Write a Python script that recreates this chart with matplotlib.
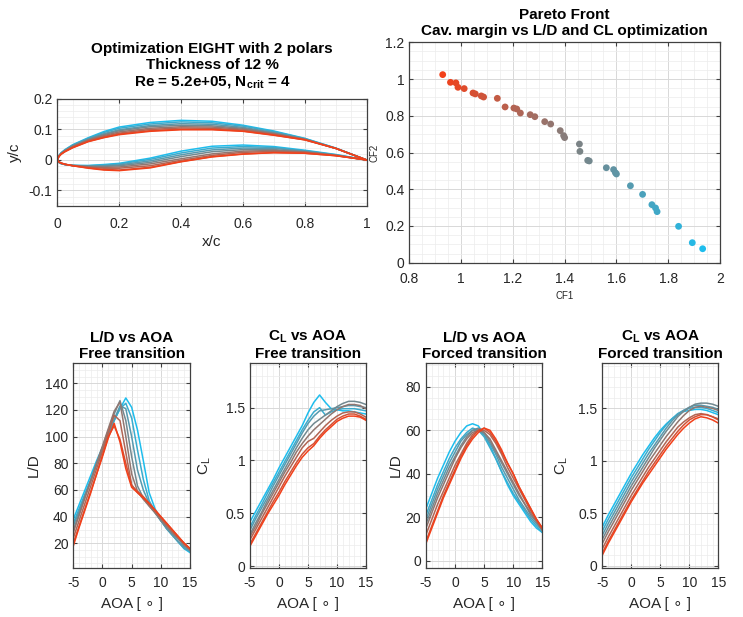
import matplotlib
matplotlib.use('Agg')
import matplotlib.pyplot as plt
from matplotlib.colors import LinearSegmentedColormap
from matplotlib.ticker import MultipleLocator, FuncFormatter

plt.rcParams['font.family'] = ['Liberation Sans', 'DejaVu Sans']
plt.rcParams['mathtext.fontset'] = 'custom'
plt.rcParams['mathtext.rm'] = 'Liberation Sans'
plt.rcParams['mathtext.bf'] = 'Liberation Sans:bold'
plt.rcParams['axes.unicode_minus'] = False

# ---- geometry of the designs (red -> grey -> cyan) ----
x_st = [0, 0.005, 0.0125, 0.025, 0.05, 0.1, 0.15, 0.2, 0.3, 0.4, 0.5, 0.6, 0.7, 0.8, 0.9, 1.0]

upper = [
    [0, .011, .019, .027, .040, .060, .073, .083, .094, .099, .099, .094, .081, .066, .038, 0],
    [0, .011, .019, .028, .041, .061, .074, .085, .096, .101, .101, .095, .082, .066, .038, 0],
    [0, .012, .020, .029, .043, .063, .077, .088, .100, .105, .104, .098, .084, .067, .038, 0],
    [0, .012, .021, .030, .044, .065, .080, .092, .104, .109, .108, .101, .086, .068, .038, 0],
    [0, .013, .022, .031, .046, .067, .083, .096, .109, .114, .112, .104, .088, .068, .038, 0],
    [0, .013, .022, .032, .047, .069, .086, .099, .113, .119, .117, .107, .090, .069, .038, 0],
    [0, .014, .023, .033, .049, .071, .090, .104, .118, .125, .122, .111, .093, .070, .039, 0],
    [0, .014, .024, .034, .050, .073, .093, .108, .123, .130, .127, .114, .095, .071, .039, 0],
]
lower = [
    [0, -.006, -.010, -.014, -.019, -.027, -.033, -.035, -.026, -.006, .010, .019, .024, .022, .014, 0],
    [0, -.006, -.010, -.014, -.019, -.026, -.031, -.033, -.024, -.005, .011, .020, .024, .022, .014, 0],
    [0, -.007, -.011, -.014, -.019, -.024, -.027, -.027, -.019, -.001, .015, .025, .028, .025, .015, 0],
    [0, -.007, -.011, -.015, -.018, -.023, -.024, -.023, -.013, .004, .020, .029, .031, .026, .015, 0],
    [0, -.007, -.011, -.015, -.018, -.021, -.021, -.019, -.008, .011, .027, .034, .034, .027, .016, 0],
    [0, -.008, -.012, -.015, -.018, -.020, -.019, -.016, -.003, .017, .033, .039, .038, .029, .016, 0],
    [0, -.008, -.012, -.015, -.018, -.019, -.017, -.013, .002, .023, .039, .044, .041, .030, .017, 0],
    [0, -.008, -.012, -.015, -.018, -.018, -.015, -.011, .006, .029, .045, .049, .044, .032, .018, 0],
]

# ---- pareto front ----
cf1 = [0.929, 0.959, 0.980, 0.988, 1.012, 1.046, 1.055, 1.078, 1.087, 1.140, 1.170, 1.204,
       1.215, 1.229, 1.267, 1.285, 1.323, 1.346, 1.383, 1.396, 1.400, 1.457, 1.459, 1.489,
       1.495, 1.561, 1.589, 1.596, 1.600, 1.654, 1.701, 1.737, 1.751, 1.757, 1.840, 1.893, 1.933]
cf2 = [1.024, 0.982, 0.979, 0.955, 0.948, 0.924, 0.919, 0.908, 0.902, 0.895, 0.848, 0.842,
       0.837, 0.815, 0.806, 0.795, 0.768, 0.755, 0.719, 0.692, 0.681, 0.646, 0.606, 0.557,
       0.554, 0.517, 0.507, 0.490, 0.483, 0.419, 0.372, 0.316, 0.298, 0.278, 0.198, 0.109, 0.076]

# ---- polars ----
aoa = [-5, -4, -3, -2, -1, 0, 1, 2, 3, 4, 5, 6, 7, 8, 9, 10, 11, 12, 13, 14, 15]

ld_free = [
    [18, 32, 45, 58, 72, 85, 99, 110, 96, 76, 62, 58, 54, 50, 45, 40, 35, 30, 25, 20, 16],
    [20, 33, 46, 59, 72, 86, 100, 108, 98, 80, 63, 59, 55, 50, 45, 40, 35, 30, 25, 20, 16],
    [24, 37, 50, 63, 76, 89, 103, 116, 112, 88, 64, 58, 54, 49, 44, 39, 34, 29, 24, 20, 16],
    [28, 41, 54, 67, 80, 93, 106, 119, 126, 100, 72, 59, 53, 48, 43, 38, 33, 28, 24, 19, 15],
    [30, 42, 55, 67, 80, 92, 105, 117, 127, 112, 85, 63, 54, 48, 43, 37, 32, 27, 23, 18, 15],
    [33, 44, 56, 67, 79, 90, 102, 113, 123, 121, 100, 75, 60, 50, 43, 37, 31, 26, 21, 17, 14],
    [35, 46, 57, 68, 80, 91, 102, 112, 121, 125, 114, 90, 68, 52, 44, 37, 31, 26, 21, 16, 14],
    [38, 49, 60, 71, 82, 92, 102, 112, 121, 129, 122, 105, 82, 58, 46, 38, 31, 26, 21, 16, 13],
]
cl_free = [
    [0.19, 0.29, 0.39, 0.49, 0.58, 0.67, 0.77, 0.86, 0.95, 1.03, 1.09, 1.14, 1.21, 1.27, 1.32, 1.37, 1.40, 1.42, 1.42, 1.41, 1.38],
    [0.21, 0.31, 0.41, 0.51, 0.61, 0.70, 0.80, 0.89, 0.98, 1.06, 1.12, 1.16, 1.23, 1.29, 1.34, 1.39, 1.42, 1.44, 1.44, 1.42, 1.39],
    [0.25, 0.35, 0.45, 0.55, 0.65, 0.75, 0.85, 0.94, 1.03, 1.12, 1.18, 1.21, 1.27, 1.33, 1.38, 1.42, 1.45, 1.46, 1.46, 1.44, 1.41],
    [0.28, 0.38, 0.49, 0.59, 0.69, 0.79, 0.89, 0.98, 1.08, 1.16, 1.23, 1.29, 1.34, 1.39, 1.44, 1.48, 1.51, 1.53, 1.53, 1.52, 1.49],
    [0.30, 0.41, 0.51, 0.62, 0.72, 0.82, 0.92, 1.02, 1.12, 1.21, 1.29, 1.35, 1.39, 1.43, 1.47, 1.51, 1.54, 1.56, 1.56, 1.55, 1.53],
    [0.34, 0.45, 0.55, 0.65, 0.76, 0.86, 0.96, 1.06, 1.16, 1.26, 1.35, 1.42, 1.47, 1.48, 1.49, 1.50, 1.51, 1.52, 1.52, 1.51, 1.50],
    [0.37, 0.48, 0.58, 0.69, 0.79, 0.89, 0.99, 1.09, 1.19, 1.29, 1.38, 1.46, 1.50, 1.43, 1.46, 1.48, 1.49, 1.49, 1.49, 1.48, 1.47],
    [0.42, 0.52, 0.62, 0.72, 0.82, 0.93, 1.03, 1.13, 1.23, 1.33, 1.45, 1.55, 1.62, 1.55, 1.49, 1.48, 1.47, 1.47, 1.46, 1.45, 1.44],
]
ld_forced = [
    [8, 15, 22, 29, 35, 41, 47, 52, 56, 59, 61, 60, 56, 51, 45, 40, 34, 29, 24, 19, 15],
    [9, 16, 23, 30, 36, 42, 48, 53, 57, 60, 61, 59, 55, 50, 45, 40, 34, 29, 24, 19, 15],
    [12, 19, 26, 32, 38, 44, 49, 54, 58, 60, 60, 58, 54, 49, 43, 38, 33, 28, 23, 19, 15],
    [15, 22, 29, 35, 41, 47, 52, 56, 59, 60, 59, 56, 51, 46, 41, 36, 31, 26, 22, 18, 14],
    [17, 24, 31, 37, 43, 48, 53, 57, 60, 61, 59, 55, 50, 45, 40, 35, 30, 26, 21, 18, 14],
    [19, 26, 33, 39, 45, 50, 55, 58, 60, 60, 58, 54, 49, 43, 38, 33, 28, 24, 20, 17, 14],
    [21, 28, 35, 41, 47, 52, 56, 59, 61, 60, 57, 52, 47, 41, 36, 31, 27, 23, 19, 16, 13],
    [24, 31, 38, 44, 50, 55, 59, 62, 63, 62, 58, 53, 47, 41, 35, 30, 26, 22, 18, 15, 13],
]
cl_forced = [
    [0.10, 0.21, 0.31, 0.41, 0.51, 0.61, 0.70, 0.79, 0.87, 0.95, 1.03, 1.11, 1.18, 1.25, 1.31, 1.36, 1.40, 1.42, 1.41, 1.39, 1.36],
    [0.12, 0.23, 0.33, 0.43, 0.53, 0.63, 0.72, 0.81, 0.90, 0.98, 1.06, 1.14, 1.21, 1.28, 1.34, 1.39, 1.42, 1.44, 1.44, 1.42, 1.39],
    [0.16, 0.27, 0.37, 0.47, 0.57, 0.67, 0.76, 0.85, 0.94, 1.02, 1.10, 1.18, 1.25, 1.32, 1.37, 1.41, 1.44, 1.45, 1.44, 1.42, 1.40],
    [0.21, 0.32, 0.42, 0.52, 0.62, 0.72, 0.81, 0.90, 0.99, 1.07, 1.15, 1.23, 1.30, 1.37, 1.43, 1.48, 1.51, 1.52, 1.51, 1.50, 1.48],
    [0.25, 0.36, 0.46, 0.56, 0.66, 0.76, 0.85, 0.94, 1.03, 1.12, 1.20, 1.28, 1.35, 1.42, 1.47, 1.51, 1.54, 1.55, 1.55, 1.54, 1.52],
    [0.29, 0.40, 0.50, 0.60, 0.70, 0.80, 0.89, 0.98, 1.07, 1.15, 1.23, 1.31, 1.38, 1.44, 1.48, 1.51, 1.53, 1.53, 1.52, 1.51, 1.49],
    [0.33, 0.44, 0.54, 0.64, 0.74, 0.84, 0.93, 1.02, 1.11, 1.19, 1.27, 1.34, 1.40, 1.45, 1.48, 1.50, 1.51, 1.51, 1.50, 1.48, 1.46],
    [0.37, 0.48, 0.58, 0.68, 0.78, 0.88, 0.97, 1.06, 1.14, 1.22, 1.29, 1.35, 1.40, 1.44, 1.47, 1.48, 1.49, 1.49, 1.48, 1.46, 1.44],
]

cmap = LinearSegmentedColormap.from_list('rgc', ['#f2401a', '#808080', '#1ebded'])
n_des = len(upper)
W, H = 743, 617
TXT = '#262626'


def px_axes(fig, left, top, right, bottom):
    return fig.add_axes([left / W, 1 - bottom / H, (right - left) / W, (bottom - top) / H])


def style(ax, xmaj, xmin, ymaj, ymin, xpad=6):
    ax.xaxis.set_major_locator(MultipleLocator(xmaj))
    ax.xaxis.set_minor_locator(MultipleLocator(xmin))
    ax.yaxis.set_major_locator(MultipleLocator(ymaj))
    ax.yaxis.set_minor_locator(MultipleLocator(ymin))
    fmt = FuncFormatter(lambda v, p: f'{v:g}' if abs(v) > 1e-9 else '0')
    ax.xaxis.set_major_formatter(fmt)
    ax.yaxis.set_major_formatter(fmt)
    ax.grid(True, which='major', color='#d8d8d8', lw=0.7)
    ax.grid(True, which='minor', color='#ececec', lw=0.5)
    ax.set_axisbelow(True)
    ax.tick_params(which='both', direction='in', top=True, right=True,
                   color='#404040', labelcolor=TXT, labelsize=10)
    ax.tick_params(which='major', length=3, width=0.8)
    ax.tick_params(which='minor', length=0)
    ax.tick_params(axis='x', pad=xpad)
    for s in ax.spines.values():
        s.set_color('#404040')
        s.set_linewidth(0.9)


fig = plt.figure(figsize=(W / 100, H / 100), dpi=100)

# airfoils
ax = px_axes(fig, 57.3, 99, 366.7, 205.7)
for i in reversed(range(n_des)):
    c = cmap(i / (n_des - 1))
    ax.plot(x_st, upper[i], color=c, lw=1.1)
    ax.plot(x_st, lower[i], color=c, lw=1.1)
ax.set_xlim(0, 1)
ax.set_ylim(-0.15, 0.2)
style(ax, 0.2, 0.05, 0.1, 0.02, xpad=8)
ax.set_xlabel('x/c', fontsize=11, color=TXT, labelpad=3)
ax.set_ylabel('y/c', fontsize=11, color=TXT, labelpad=5)
ax.set_title('Optimization EIGHT with 2 polars\nThickness of 12 %\n'
             r'Re = 5.2e+05, N$_{\mathbf{crit}}$ = 4',
             fontsize=11, fontweight='bold', pad=9)

# pareto front
ax = px_axes(fig, 409.3, 42.3, 720, 262.7)
lo, hi = min(cf1), max(cf1)
cols = [cmap((v - lo) / (hi - lo)) for v in cf1]
ax.scatter(cf1, cf2, s=24, c=cols, marker='o', linewidths=0, zorder=3)
ax.set_xlim(0.8, 2)
ax.set_ylim(0, 1.2)
style(ax, 0.2, 0.05, 0.2, 0.05, xpad=7)
ax.set_xlabel('CF1', fontsize=7, color=TXT, labelpad=3)
ax.set_ylabel('CF2', fontsize=7, color=TXT, labelpad=4)
ax.set_title('Pareto Front\nCav. margin vs L/D and CL optimization',
             fontsize=11, fontweight='bold', pad=5)

# polars
panels = [
    (73.3, 190, ld_free, 'L/D vs AOA\nFree transition', 'L/D', (1.7, 155), 20, 5, 3),
    (250, 366, cl_free, 'C$_{\\mathbf{L}}$ vs AOA\nFree transition', 'C$_{\\mathregular{L}}$', (-0.015, 1.92), 0.5, 0.1, 9),
    (426, 542.3, ld_forced, 'L/D vs AOA\nForced transition', 'L/D', (-3.2, 90.8), 20, 5, 2),
    (602.3, 718.3, cl_forced, 'C$_{\\mathbf{L}}$ vs AOA\nForced transition', 'C$_{\\mathregular{L}}$', (-0.02, 1.93), 0.5, 0.1, 6),
]
for left, right, data, title, ylab, ylim, ymaj, ymin, ylpad in panels:
    ax = px_axes(fig, left, 363.3, right, 567.7)
    for i in reversed(range(n_des)):
        ax.plot(aoa, data[i], color=cmap(i / (n_des - 1)), lw=1.1)
    ax.set_xlim(-5, 15)
    ax.set_ylim(*ylim)
    style(ax, 5, 1, ymaj, ymin, xpad=6)
    ax.set_xlabel('AOA [ \u2218 ]', fontsize=11, color=TXT, labelpad=5)
    ax.set_ylabel(ylab, fontsize=11, color=TXT, labelpad=ylpad)
    ax.set_title(title, fontsize=11, fontweight='bold', pad=4)

fig.savefig('out.png', dpi=100, facecolor='white')
